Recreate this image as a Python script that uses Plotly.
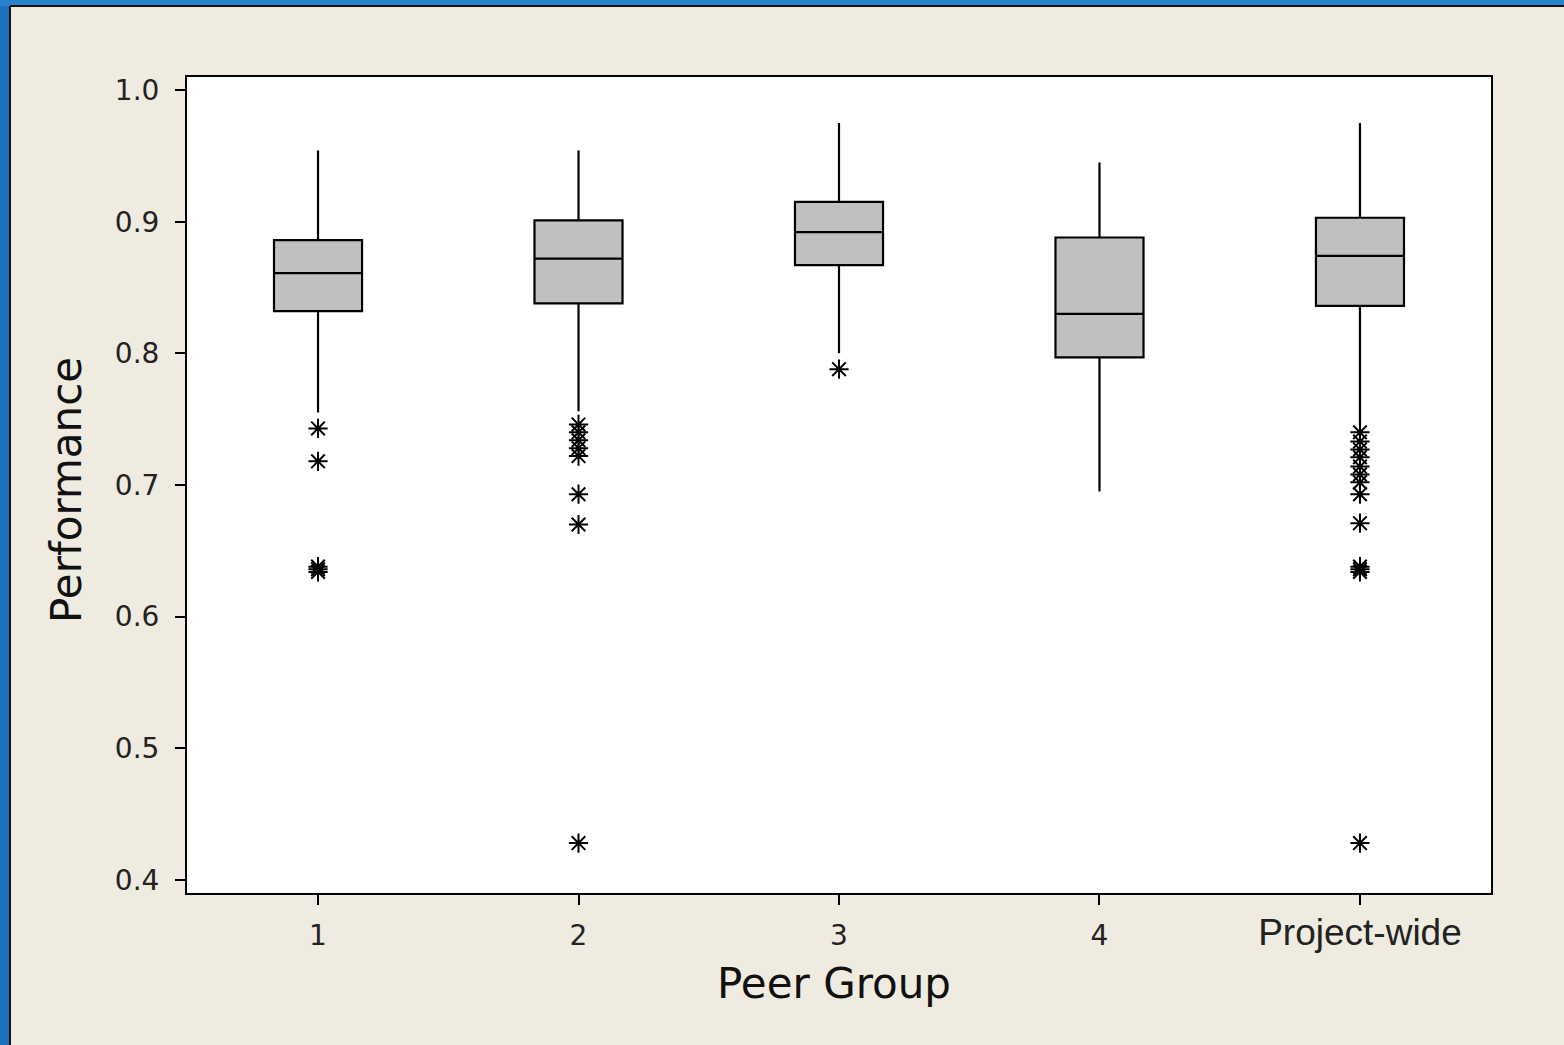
import plotly.graph_objects as go

groups = ["1", "2", "3", "4", "Project-wide"]
q1 = [0.832, 0.838, 0.867, 0.797, 0.836]
median = [0.861, 0.872, 0.892, 0.830, 0.874]
q3 = [0.886, 0.901, 0.915, 0.888, 0.903]
lower_whisker = [0.755, 0.756, 0.800, 0.695, 0.746]
upper_whisker = [0.954, 0.954, 0.975, 0.945, 0.975]

outliers = {
    "1": [0.743, 0.718, 0.638, 0.636, 0.634],
    "2": [0.746, 0.740, 0.734, 0.728, 0.722, 0.693, 0.670, 0.428],
    "3": [0.788],
    "4": [],
    "Project-wide": [0.740, 0.733, 0.727, 0.721, 0.714, 0.708, 0.702, 0.693,
                     0.671, 0.638, 0.636, 0.634, 0.428],
}

W, H = 1564, 1045
L, R, T, B = 187, 73, 77, 152
pw, ph = W - L - R, H - T - B

def px2x(px):
    return (px - L) / pw

def py2y(py):
    return 1 - (py - T) / ph

bg = "#efebe0"
font_family = "DejaVu Sans"

xpos = list(range(len(groups)))

fig = go.Figure()
fig.add_trace(go.Box(
    x=xpos, q1=q1, median=median, q3=q3,
    lowerfence=lower_whisker, upperfence=upper_whisker,
    width=0.338, whiskerwidth=0, fillcolor="#c0c0c0",
    line=dict(color="black", width=2.2),
    boxpoints=False, showlegend=False, hoverinfo="skip",
))

ox, oy = [], []
for i, g in enumerate(groups):
    for v in outliers[g]:
        ox.append(i)
        oy.append(v)
fig.add_trace(go.Scatter(
    x=ox, y=oy, mode="markers",
    marker=dict(symbol="asterisk-open", size=16,
                line=dict(color="black", width=2), color="black"),
    showlegend=False, hoverinfo="skip",
))

ticktext = ["1", "2", "3", "4",
            "<span style='font-family:Liberation Sans;font-size:37px'>Project-wide</span>"]

fig.update_xaxes(
    range=[-0.503, 4.503], tickvals=xpos, ticktext=ticktext,
    showgrid=False, zeroline=False,
    showline=True, linecolor="black", linewidth=2, mirror=True,
    ticks="outside", ticklen=10, tickwidth=2, tickcolor="black",
    tickfont=dict(family=font_family, size=28, color="#222222"),
    ticklabelstandoff=6,
)
fig.update_yaxes(
    range=[0.3901, 1.0099], tickvals=[0.4, 0.5, 0.6, 0.7, 0.8, 0.9, 1.0],
    ticktext=["0.4", "0.5", "0.6", "0.7", "0.8", "0.9", "1.0"],
    showgrid=False, zeroline=False,
    showline=True, linecolor="black", linewidth=2, mirror=True,
    ticks="outside", ticklen=10, tickwidth=2, tickcolor="black",
    tickfont=dict(family=font_family, size=28, color="#222222"),
    ticklabelstandoff=10,
)

shapes = [
    # blue window frame, left and top
    dict(type="rect", xref="paper", yref="paper",
         x0=px2x(0), x1=px2x(9), y0=py2y(H), y1=py2y(0),
         fillcolor="#1f6fbf", line=dict(width=0), layer="below"),
    dict(type="rect", xref="paper", yref="paper",
         x0=px2x(0), x1=px2x(W), y0=py2y(6), y1=py2y(0),
         fillcolor="#2a82cf", line=dict(width=0), layer="below"),
    dict(type="line", xref="paper", yref="paper",
         x0=px2x(10), x1=px2x(10), y0=py2y(H), y1=py2y(6),
         line=dict(color="#111111", width=2)),
    dict(type="line", xref="paper", yref="paper",
         x0=px2x(10), x1=px2x(W), y0=py2y(6), y1=py2y(6),
         line=dict(color="#111111", width=2)),
]

annotations = [
    dict(text="Peer Group", xref="paper", yref="paper",
         x=px2x(834), y=py2y(983), xanchor="center", yanchor="middle",
         showarrow=False, font=dict(family=font_family, size=42, color="#111111")),
    dict(text="Performance", xref="paper", yref="paper",
         x=px2x(66), y=py2y(490), xanchor="center", yanchor="middle",
         textangle=-90, showarrow=False,
         font=dict(family=font_family, size=42, color="#111111")),
]

fig.update_layout(
    width=W, height=H,
    margin=dict(l=L, r=R, t=T, b=B, pad=0),
    paper_bgcolor=bg, plot_bgcolor="white",
    shapes=shapes, annotations=annotations,
)

fig.write_html("out.html",
               config={"displayModeBar": False},
               post_script="document.body.style.margin='0';"
                           "document.body.style.overflow='hidden';")
